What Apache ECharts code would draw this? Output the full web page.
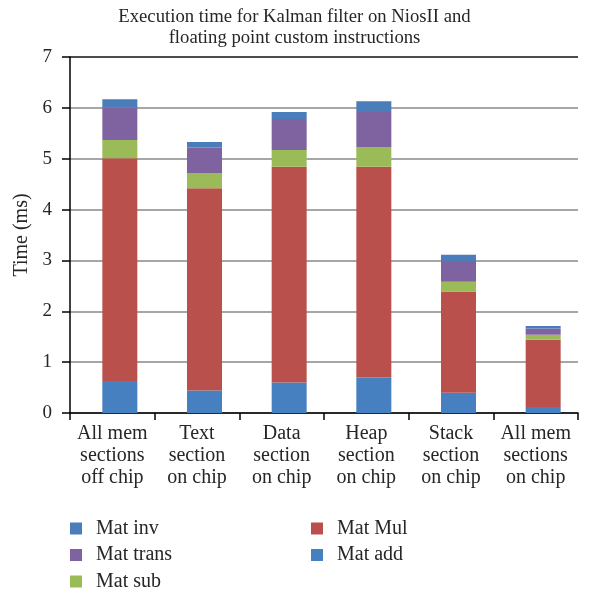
<!DOCTYPE html>
<html>
<head>
<meta charset="utf-8">
<script src="https://cdn.jsdelivr.net/npm/echarts@6/dist/echarts.min.js"></script>
<style>html,body{margin:0;padding:0;background:#fff}#c{width:589px;height:594px}</style>
</head>
<body>
<div id="c"></div>
<script>
const categories = ['All mem\nsections\noff chip', 'Text\nsection\non chip', 'Data\nsection\non chip', 'Heap\nsection\non chip', 'Stack\nsection\non chip', 'All mem\nsections\non chip'];
const matAdd   = [0.63, 0.44, 0.60, 0.70, 0.40, 0.12];
const matMul   = [4.38, 3.98, 4.24, 4.14, 1.99, 1.32];
const matSub   = [0.36, 0.30, 0.33, 0.39, 0.19, 0.10];
const matTrans = [0.63, 0.50, 0.61, 0.69, 0.41, 0.12];
const matInv   = [0.17, 0.11, 0.14, 0.21, 0.12, 0.05];
const yTicks = [0, 1, 2, 3, 4, 5, 6, 7];

const FONT = '"Liberation Serif", "DejaVu Serif", serif';
const TXT = '#262626';
const colors = {
  'Mat inv': '#4a7dba',
  'Mat trans': '#7f63a0',
  'Mat sub': '#9bbb59',
  'Mat Mul': '#ba504c',
  'Mat add': '#4680c1'
};

const chart = echarts.init(document.getElementById('c'), null, {renderer: 'canvas'});

function bar(name, data) {
  return {
    name: name, type: 'bar', stack: 'total', data: data,
    xAxisIndex: 1, yAxisIndex: 1, barWidth: 35,
    itemStyle: {color: colors[name]},
    emphasis: {disabled: true}
  };
}

const legendText = {fontFamily: FONT, fontSize: 20, color: TXT, lineHeight: 18, padding: [0, 0, 0, 9]};

const option = {
  animation: false,
  backgroundColor: '#fff',
  title: {
    text: 'Execution time for Kalman filter on NiosII and\nfloating point custom instructions',
    left: 'center', top: 1,
    textStyle: {fontFamily: FONT, fontSize: 18.7, fontWeight: 'normal', color: TXT, lineHeight: 21.5}
  },
  legend: [
    {
      data: ['Mat inv', 'Mat trans', 'Mat sub'],
      orient: 'horizontal', left: 70, top: 518.5, width: 130, padding: 0,
      itemWidth: 12, itemHeight: 12, itemGap: 6.5, icon: 'rect',
      textStyle: legendText
    },
    {
      data: ['Mat Mul', 'Mat add'],
      orient: 'horizontal', left: 311, top: 518.5, width: 130, padding: 0,
      itemWidth: 12, itemHeight: 12, itemGap: 6.5, icon: 'rect',
      textStyle: legendText
    }
  ],
  grid: [
    {left: 70, right: 11, top: 57, bottom: 181, containLabel: false},
    {left: 77.5, right: 3.5, top: 57, bottom: 181, containLabel: false}
  ],
  xAxis: [
    {
      type: 'category', gridIndex: 0, data: categories, boundaryGap: true,
      axisLine: {lineStyle: {color: '#000', width: 1.5}},
      axisTick: {show: true, length: 7, inside: false, lineStyle: {color: '#000', width: 1.5}},
      axisLabel: {fontFamily: FONT, fontSize: 20, color: TXT, lineHeight: 22, margin: 10, interval: 0},
      splitLine: {show: false}
    },
    {
      type: 'category', gridIndex: 1, data: categories, show: false
    }
  ],
  yAxis: [
    {
      type: 'value', gridIndex: 0, min: yTicks[0], max: yTicks[yTicks.length - 1], interval: 1,
      name: 'Time (ms)', nameLocation: 'middle', nameGap: 38, nameRotate: 90,
      nameTextStyle: {fontFamily: FONT, fontSize: 20, color: TXT},
      axisLine: {show: true, lineStyle: {color: '#000', width: 1.5}},
      axisTick: {show: true, length: 8, inside: false, lineStyle: {color: '#000', width: 1.5}},
      axisLabel: {fontFamily: FONT, fontSize: 19, color: TXT, margin: 18},
      splitLine: {show: true, lineStyle: {color: ['#888', '#888', '#888', '#888', '#888', '#888', '#888', '#111'], width: 1.5}}
    },
    {
      type: 'value', gridIndex: 1, min: yTicks[0], max: yTicks[yTicks.length - 1], interval: 1, show: false,
      splitLine: {show: false}
    }
  ],
  series: [
    bar('Mat add', matAdd),
    bar('Mat Mul', matMul),
    bar('Mat sub', matSub),
    bar('Mat trans', matTrans),
    bar('Mat inv', matInv)
  ]
};
chart.setOption(option);
</script>
</body>
</html>
